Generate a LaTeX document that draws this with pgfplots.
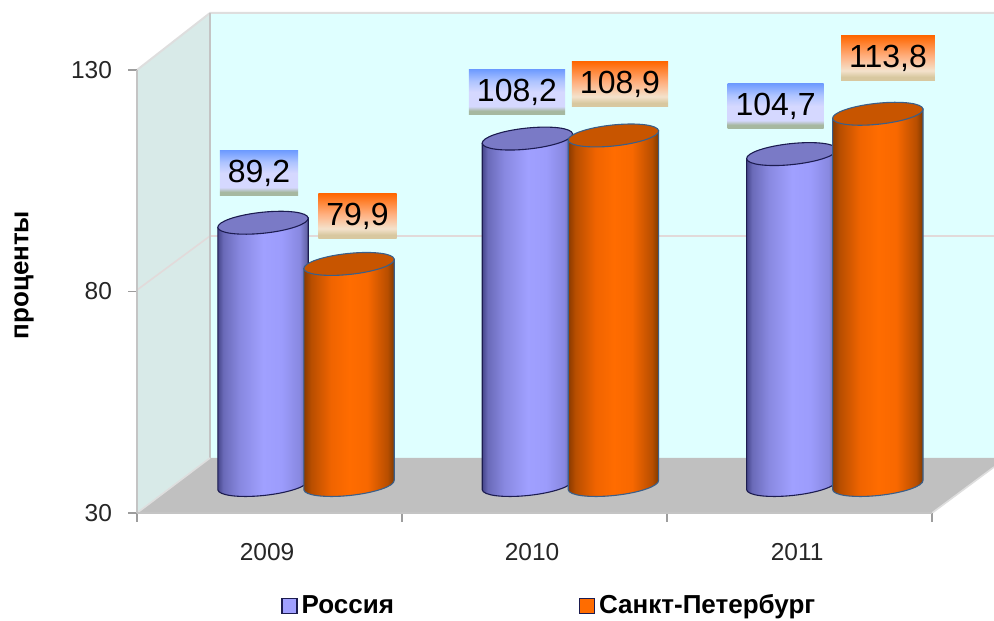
\documentclass[border=0pt]{standalone}
\usepackage{fontspec}
\setmainfont{Liberation Sans}
\usepackage{pgfplots}
\usepackage{pgfplotstable}
\pgfplotsset{compat=1.18}

\definecolor{ruA}{HTML}{46468A}\definecolor{ruB}{HTML}{6A6AB8}\definecolor{ruC}{HTML}{8888E0}
\definecolor{ruD}{HTML}{A0A0FF}\definecolor{ruE}{HTML}{9C9CFC}\definecolor{ruF}{HTML}{5A5A96}
\definecolor{ruTop}{HTML}{7A7AC6}\definecolor{ruLine}{HTML}{1C1C50}
\definecolor{spA}{HTML}{8A3A00}\definecolor{spB}{HTML}{B84E00}\definecolor{spC}{HTML}{F06400}
\definecolor{spD}{HTML}{FF6C00}\definecolor{spE}{HTML}{F86800}\definecolor{spF}{HTML}{7A3800}
\definecolor{spTop}{HTML}{C85500}\definecolor{spLine}{HTML}{3A5F8A}
\definecolor{laA}{HTML}{6E9BFF}\definecolor{laB}{HTML}{AEC4FF}\definecolor{laC}{HTML}{D5D8FF}\definecolor{laD}{HTML}{A6B8A0}
\definecolor{lbA}{HTML}{FF6600}\definecolor{lbB}{HTML}{FFB080}\definecolor{lbC}{HTML}{F4E2CC}\definecolor{lbD}{HTML}{D8C8A0}
\definecolor{backwall}{HTML}{DFFFFF}\definecolor{sidewall}{HTML}{D8EAE8}\definecolor{floorc}{HTML}{C0C0C0}
\definecolor{gridc}{HTML}{E2DADA}\definecolor{edgec}{HTML}{C4C4C4}\definecolor{edgel}{HTML}{DEDEDE}

\pgfdeclarehorizontalshading{cylRu}{100bp}{color(0bp)=(ruA);color(25bp)=(ruA);color(28bp)=(ruB);color(37bp)=(ruC);color(50bp)=(ruD);color(60bp)=(ruE);color(70bp)=(ruC);color(75bp)=(ruF);color(100bp)=(ruF)}
\pgfdeclarehorizontalshading{cylSp}{100bp}{color(0bp)=(spA);color(25bp)=(spA);color(29bp)=(spB);color(40bp)=(spC);color(50bp)=(spD);color(60bp)=(spE);color(71bp)=(spB);color(75bp)=(spF);color(100bp)=(spF)}
\pgfdeclareverticalshading{lblRu}{100bp}{color(0bp)=(laD);color(25bp)=(laD);color(29bp)=(laD);color(34bp)=(laC);color(50bp)=(laC);color(62bp)=(laB);color(75bp)=(laA);color(100bp)=(laA)}
\pgfdeclareverticalshading{lblSp}{100bp}{color(0bp)=(lbD);color(25bp)=(lbD);color(29bp)=(lbD);color(36bp)=(lbC);color(52bp)=(lbB);color(75bp)=(lbA);color(100bp)=(lbA)}

% a cylinder whose height follows the plotted value (\val)
\newcommand{\cylmark}[5]{%
  \pgfdeclareplotmark{#1}{%
    \pgfmathsetmacro{\cylH}{(\val-30)*2.215}%
    \pgftransformxshift{#2}%
    \pgfsetlinewidth{0.55pt}%
    \pgfsetstrokecolor{#5}%
    \pgfpathmoveto{\pgfpoint{-22.6pt}{-2.37pt}}%
    \pgfpathlineto{\pgfpoint{-22.6pt}{-2.37pt-\cylH pt}}%
    \pgfpatharcaxes{180}{360}{\pgfpoint{22.6pt}{2.37pt}}{\pgfpoint{-0.55pt}{5.22pt}}%
    \pgfpathlineto{\pgfpoint{22.6pt}{2.37pt}}%
    \pgfpathclose
    \pgfshadepath{#3}{0}%
    \pgfusepath{stroke}%
    \pgfsetfillcolor{#4}%
    \pgfpathellipse{\pgfpointorigin}{\pgfpoint{22.6pt}{2.37pt}}{\pgfpoint{-0.55pt}{5.22pt}}%
    \pgfusepath{fill,stroke}%
  }%
}
\cylmark{cylRussia}{-21.375pt}{cylRu}{ruTop}{ruLine}
\cylmark{cylPiter}{21.625pt}{cylSp}{spTop}{spLine}

\pgfplotstableread{
x ru    sp    rdx     rdy  sdx    sdy
0 89.2  79.9  -46.75  49.7 51.75  48.0
1 108.2 108.9 -53.15  46.6 49.85  51.5
2 104.7 113.8 -59.0   48.1 53.45  55.8
}\chartdata

\pgfplotsset{
  datalabel/.style={
    draw=none, mark=none, forget plot,
    point meta=y,
    nodes near coords={\pgfmathprintnumber[assume math mode=true,use comma,fixed,fixed zerofill,precision=1]{\pgfplotspointmeta}},
    nodes near coords style={
      anchor=center, shade, shading=#1, text=black,
      font=\fontsize{16}{16}\selectfont,
      minimum height=22.5pt, inner xsep=4pt, inner ysep=0pt,
      xshift=\dx*0.5pt, yshift=\dy*0.5pt},
  },
}

\begin{document}
\begin{tikzpicture}
\path[use as bounding box] (0,0) rectangle (497pt,310pt);

\begin{scope}[x=0.5pt,y=-0.5pt,yshift=310pt]
  \fill[backwall] (210,13) rectangle (994,458);
  \fill[sidewall] (137,70) -- (210,13) -- (210,458) -- (137,513) -- cycle;
  \fill[floorc] (137,513) -- (932,513) -- (994,467) -- (994,458) -- (210,458) -- cycle;
  \draw[gridc,line width=0.8pt] (137,290) -- (210,236) -- (994,236);
  \draw[edgel,line width=1pt] (137,70) -- (210,13) -- (994,13);
  \draw[edgec,line width=1pt] (210,13) -- (210,458);
  \draw[edgel,line width=0.8pt] (137,513) -- (210,458);
  \draw[edgel,line width=0.8pt] (932,513) -- (994,467);
\end{scope}

% front plane: the value axis and the category axis
\begin{axis}[
  at={(68.5pt,53.5pt)}, anchor=south west,
  scale only axis, width=397.5pt, height=221.5pt,
  xmin=0, xmax=3, ymin=30, ymax=130,
  axis lines*=left, axis line style={edgec,line width=1pt,-},
  clip=false,
  xtick={0.5,1.5,2.5}, xticklabels={2009,2010,2011},
  minor xtick={0,1,2,3},
  ytick={30,80,130},
  major x tick style={draw=none},
  minor tick length=4.5pt,
  minor x tick style={edgec!80!black,line width=0.7pt},
  tick align=outside,
  y tick style={edgec!80!black,line width=0.7pt},
  major tick length=4.5pt,
  /pgf/number format/assume math mode=true,
  tick label style={font=\fontsize{12.25}{12.25}\selectfont,text=black!85},
  x tick label style={yshift=-7pt,xshift=-1.2pt},
  y tick label style={xshift=-4.5pt},
  ylabel={проценты},
  every axis y label/.style={at={(axis description cs:-0.142,0.537)},rotate=90,anchor=center,font=\fontsize{13}{13}\bfseries\selectfont},
]
\end{axis}

% cylinders, set back from the front plane
\begin{axis}[
  at={(86.775pt,67.5pt)}, anchor=south west,
  scale only axis, width=396.6pt, height=221.5pt,
  xmin=-0.5, xmax=2.5, ymin=30, ymax=130,
  hide axis, clip=false,
  legend columns=2,
  legend cell align=left,
  legend style={
    at={(0.1355,-0.2725)}, anchor=west, draw=none, fill=none, inner sep=0pt,
    font=\fontsize{13}{13}\bfseries\selectfont,
    /tikz/every even column/.append style={column sep=90.5pt},
  },
]
\addplot[scatter, only marks, mark=cylRussia,
  visualization depends on={rawy \as \val},
  legend image code/.code={\draw[fill=ruD,draw=ruLine,line width=0.6pt] (0pt,-3.7pt) rectangle (7.5pt,3.7pt);}]
  table[x=x,y=ru] {\chartdata};
\addlegendentry{Россия}
\addplot[scatter, only marks, mark=cylPiter,
  visualization depends on={rawy \as \val},
  legend image code/.code={\draw[fill=spD,draw=ruLine,line width=0.6pt] (0pt,-3.7pt) rectangle (7.5pt,3.7pt);}]
  table[x=x,y=sp] {\chartdata};
\addlegendentry{Санкт-Петербург}

\addplot[datalabel=lblRu,
  visualization depends on={\thisrow{rdx} \as \dx},
  visualization depends on={\thisrow{rdy} \as \dy}]
  table[x=x,y=ru] {\chartdata};
\addplot[datalabel=lblSp,
  visualization depends on={\thisrow{sdx} \as \dx},
  visualization depends on={\thisrow{sdy} \as \dy}]
  table[x=x,y=sp] {\chartdata};
\end{axis}
\end{tikzpicture}
\end{document}
